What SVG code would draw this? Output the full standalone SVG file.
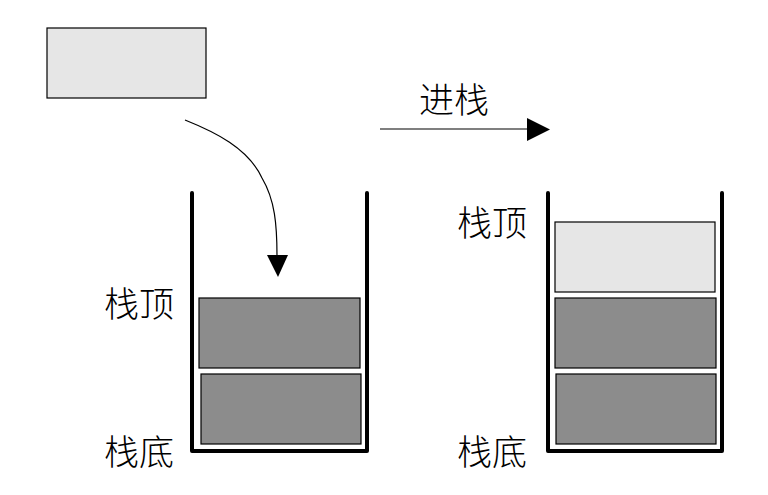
<svg xmlns="http://www.w3.org/2000/svg" width="768" height="495" viewBox="0 0 768 495">
<style>
.light{fill:#e6e6e6;stroke:#000;stroke-width:1.2}
.dark{fill:#8c8c8c;stroke:#000;stroke-width:1.2}
.wall{fill:none;stroke:#000;stroke-width:4;stroke-linecap:round;stroke-linejoin:round}
.lbl{font-family:"Noto Sans CJK SC","Noto Sans",sans-serif;font-size:35px;font-weight:300;fill:#000;dominant-baseline:central}
.conn{fill:none;stroke:#000;stroke-width:1.2}
</style>
<rect width="768" height="495" fill="#fff"/>
<g id="incoming">
<rect class="light" x="47" y="28" width="159" height="70"/>
</g>
<g id="stack-left">
<path class="wall" d="M192,193 V451 H367 V193"/>
<rect class="dark" x="199" y="298" width="161" height="70"/>
<rect class="dark" x="201" y="374" width="160" height="70"/>
</g>
<g id="stack-right">
<path class="wall" d="M548,193 V451 H722 V193"/>
<rect class="light" x="555" y="222" width="160" height="70"/>
<rect class="dark" x="555" y="298" width="161" height="70"/>
<rect class="dark" x="556" y="374" width="160" height="70"/>
</g>
<g id="labels">
<text class="lbl" x="104" y="301">栈顶</text>
<text class="lbl" x="104" y="449">栈底</text>
<text class="lbl" x="457" y="220">栈顶</text>
<text class="lbl" x="457" y="449">栈底</text>
<text class="lbl" x="419" y="97">进栈</text>
</g>
<g id="connectors">
<path class="conn" d="M185,120 C215,132 248,148 262,178 C275,200 277,225 277,256"/>
<path d="M267,255 L288,255 L278,277 Z" fill="#000"/>
<line class="conn" x1="380" y1="129" x2="528" y2="129"/>
<path d="M527,118 L550,129.5 L527,141 Z" fill="#000"/>
</g>
</svg>
